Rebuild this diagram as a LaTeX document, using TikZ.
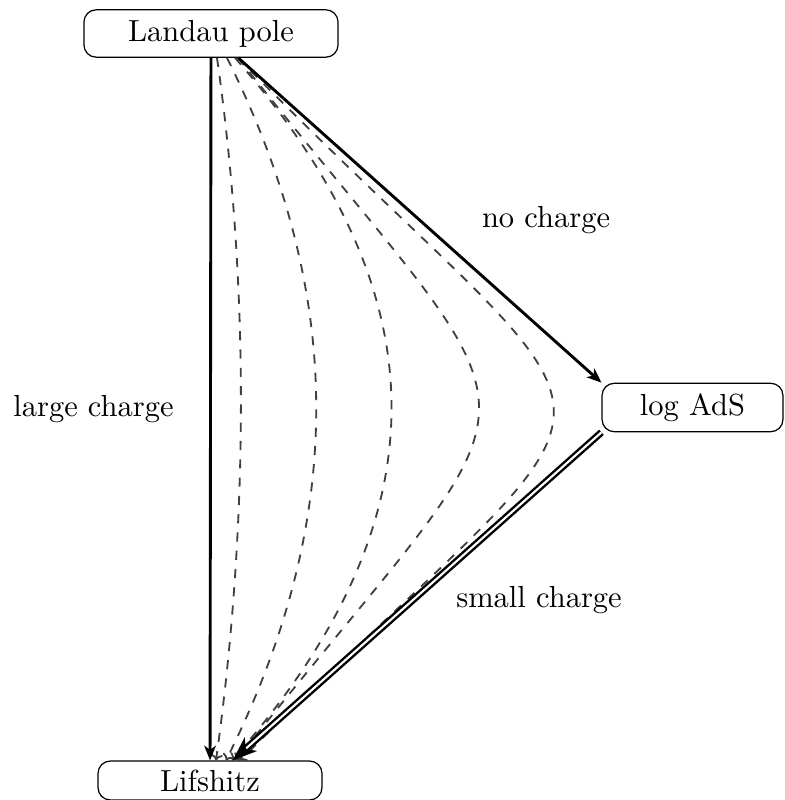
\documentclass[tikz,border=0pt]{standalone}
\usetikzlibrary{calc,arrows.meta}
\begin{document}
\begin{tikzpicture}[x=0.32787pt,y=-0.32787pt,
  box/.style={draw,rounded corners=4pt,inner ysep=3.33pt},
  lbl/.style={inner sep=3.33pt},
  flow/.style={line width=0.95pt,-{Stealth[length=4.8pt,width=3.8pt,inset=1.3pt]}},
  dflow/.style={thick,double,double distance=0.7pt,-{Stealth[length=8pt,width=6pt,inset=2.2pt]}},
  crv/.style={dashed,line width=0.6pt,draw=black!75,-{To[length=2pt,width=4pt]}}]
\useasboundingbox (0,0) rectangle (784,800);
\node[box,minimum width=83.3pt] (L) at (211,33.5) {Landau pole};
\node[box,minimum width=59.3pt] (A) at (692.5,407.5) {log AdS};
\node[box,minimum width=73.4pt,inner ysep=2.8pt] (F) at (210,780.5) {Lifshitz};
\node[lbl] (lc) at (93.5,409) {large charge};
\node[lbl] (nc) at (546,220) {no charge};
\node[lbl] (sc) at (539,600) {small charge};
% dashed flows
\draw[crv] ($(L.south)+(6,0)$) .. controls (250,290) and (248,530) .. ($(F.north)+(6,0)$);
\draw[crv] ($(L.south)+(16,0)$) .. controls (346,297) and (346,520) .. ($(F.north)+(16,0)$);
\draw[crv] ($(L.south)+(24,0)$) .. controls (444,297) and (444,520) .. ($(F.north)+(22,0)$);
\draw[crv] ($(L.south)+(27,0)$) .. controls (560,465) and (559,352) .. ($(F.north)+(26,0)$);
\draw[crv] ($(L.south)+(27,0)$) .. controls (655,483) and (662,340) .. ($(F.north)+(30,0)$);
% solid flows
\draw[flow] (L) -- (F);
\draw[flow] (L) -- (A.north west);
\draw[dflow] (A.south west) -- (F);
\end{tikzpicture}
\end{document}
